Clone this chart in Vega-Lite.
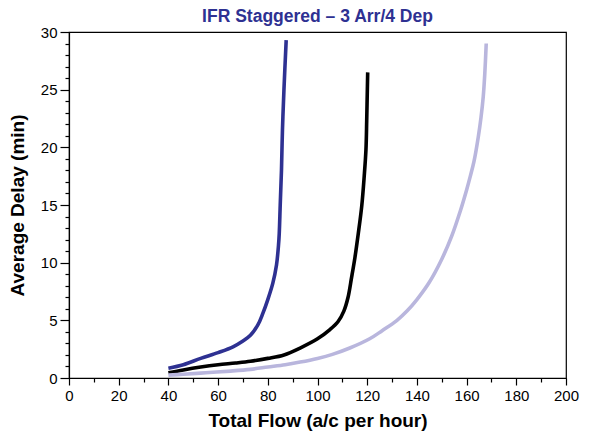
{
  "$schema": "https://vega.github.io/schema/vega-lite/v6.json",
  "width": 497,
  "height": 346,
  "autosize": "none",
  "padding": {"left": 69, "top": 32, "right": 28, "bottom": 62},
  "background": "white",
  "title": {
    "text": "IFR Staggered – 3 Arr/4 Dep",
    "color": "#2e3192",
    "font": "Liberation Sans",
    "fontSize": 17.5,
    "fontWeight": "bold",
    "anchor": "middle",
    "offset": 0
  },
  "config": {
    "view": {"stroke": "#000", "strokeWidth": 1.2},
    "axis": {
      "grid": false,
      "domainColor": "#000",
      "domainWidth": 1.2,
      "tickColor": "#000",
      "tickWidth": 1.2,
      "labelFont": "Liberation Sans",
      "labelFontSize": 15,
      "labelColor": "#000",
      "titleFont": "Liberation Sans",
      "titleFontSize": 19,
      "titleFontWeight": "bold",
      "titleColor": "#000",
      "labelOverlap": false,
      "labelFlush": false
    }
  },
  "data": {
    "values": [
      {"series": "A", "i": 1, "flow": 40, "delay": 0.85},
      {"series": "A", "i": 2, "flow": 46, "delay": 1.15},
      {"series": "A", "i": 3, "flow": 53, "delay": 1.7},
      {"series": "A", "i": 4, "flow": 60, "delay": 2.2},
      {"series": "A", "i": 5, "flow": 66, "delay": 2.7},
      {"series": "A", "i": 6, "flow": 70, "delay": 3.2},
      {"series": "A", "i": 7, "flow": 73, "delay": 3.7},
      {"series": "A", "i": 8, "flow": 76, "delay": 4.6},
      {"series": "A", "i": 9, "flow": 78, "delay": 5.6},
      {"series": "A", "i": 10, "flow": 80, "delay": 6.8},
      {"series": "A", "i": 11, "flow": 82, "delay": 8.2},
      {"series": "A", "i": 12, "flow": 83.5, "delay": 9.8},
      {"series": "A", "i": 13, "flow": 84.3, "delay": 11.5},
      {"series": "A", "i": 14, "flow": 84.6, "delay": 12.5},
      {"series": "A", "i": 15, "flow": 85, "delay": 15},
      {"series": "A", "i": 16, "flow": 85.5, "delay": 18},
      {"series": "A", "i": 17, "flow": 85.9, "delay": 21.5},
      {"series": "A", "i": 18, "flow": 86.5, "delay": 25},
      {"series": "A", "i": 19, "flow": 87.4, "delay": 29.3},

      {"series": "B", "i": 1, "flow": 40, "delay": 0.45},
      {"series": "B", "i": 2, "flow": 46, "delay": 0.7},
      {"series": "B", "i": 3, "flow": 53, "delay": 0.95},
      {"series": "B", "i": 4, "flow": 60, "delay": 1.15},
      {"series": "B", "i": 5, "flow": 67, "delay": 1.3},
      {"series": "B", "i": 6, "flow": 73, "delay": 1.45},
      {"series": "B", "i": 7, "flow": 80, "delay": 1.7},
      {"series": "B", "i": 8, "flow": 86.5, "delay": 2.0},
      {"series": "B", "i": 9, "flow": 93, "delay": 2.6},
      {"series": "B", "i": 10, "flow": 100, "delay": 3.4},
      {"series": "B", "i": 11, "flow": 105, "delay": 4.2},
      {"series": "B", "i": 12, "flow": 108.3, "delay": 4.9},
      {"series": "B", "i": 13, "flow": 110.6, "delay": 5.8},
      {"series": "B", "i": 14, "flow": 112.3, "delay": 7.0},
      {"series": "B", "i": 15, "flow": 113.7, "delay": 8.7},
      {"series": "B", "i": 16, "flow": 115.1, "delay": 10.5},
      {"series": "B", "i": 17, "flow": 116.4, "delay": 12.5},
      {"series": "B", "i": 18, "flow": 117.8, "delay": 14.9},
      {"series": "B", "i": 19, "flow": 118.8, "delay": 17.5},
      {"series": "B", "i": 20, "flow": 119.5, "delay": 19.8},
      {"series": "B", "i": 21, "flow": 119.8, "delay": 22.3},
      {"series": "B", "i": 22, "flow": 120.0, "delay": 24.4},
      {"series": "B", "i": 23, "flow": 120.2, "delay": 26.5},

      {"series": "C", "i": 1, "flow": 40, "delay": 0.25},
      {"series": "C", "i": 2, "flow": 46, "delay": 0.32},
      {"series": "C", "i": 3, "flow": 55, "delay": 0.45},
      {"series": "C", "i": 4, "flow": 65, "delay": 0.6},
      {"series": "C", "i": 5, "flow": 73, "delay": 0.75},
      {"series": "C", "i": 6, "flow": 80, "delay": 0.95},
      {"series": "C", "i": 7, "flow": 87, "delay": 1.15},
      {"series": "C", "i": 8, "flow": 93, "delay": 1.38},
      {"series": "C", "i": 9, "flow": 100, "delay": 1.7},
      {"series": "C", "i": 10, "flow": 106, "delay": 2.05},
      {"series": "C", "i": 11, "flow": 113, "delay": 2.6},
      {"series": "C", "i": 12, "flow": 121, "delay": 3.4},
      {"series": "C", "i": 13, "flow": 126, "delay": 4.1},
      {"series": "C", "i": 14, "flow": 132, "delay": 5.0},
      {"series": "C", "i": 15, "flow": 136, "delay": 5.8},
      {"series": "C", "i": 16, "flow": 140, "delay": 6.8},
      {"series": "C", "i": 17, "flow": 145, "delay": 8.3},
      {"series": "C", "i": 18, "flow": 150, "delay": 10.3},
      {"series": "C", "i": 19, "flow": 154, "delay": 12.3},
      {"series": "C", "i": 20, "flow": 157.5, "delay": 14.5},
      {"series": "C", "i": 21, "flow": 160, "delay": 16.3},
      {"series": "C", "i": 22, "flow": 161.5, "delay": 17.5},
      {"series": "C", "i": 23, "flow": 163, "delay": 18.8},
      {"series": "C", "i": 24, "flow": 164.7, "delay": 20.9},
      {"series": "C", "i": 25, "flow": 165.8, "delay": 22.6},
      {"series": "C", "i": 26, "flow": 166.7, "delay": 24.4},
      {"series": "C", "i": 27, "flow": 167.3, "delay": 26.3},
      {"series": "C", "i": 28, "flow": 167.9, "delay": 29}
    ]
  },
  "mark": {"type": "line", "interpolate": "catmull-rom", "strokeWidth": 3.6, "strokeCap": "butt", "clip": true},
  "encoding": {
    "x": {
      "field": "flow",
      "type": "quantitative",
      "scale": {"domain": [0, 200], "nice": false},
      "axis": {
        "title": "Total Flow (a/c per hour)",
        "values": [0, 10, 20, 30, 40, 50, 60, 70, 80, 90, 100, 110, 120, 130, 140, 150, 160, 170, 180, 190, 200],
        "labelExpr": "datum.value % 20 === 0 ? datum.label : ''",
        "tickSize": {"condition": {"test": "datum.value % 20 === 0", "value": 7}, "value": 4},
        "labelPadding": 3,
        "titlePadding": 8
      }
    },
    "y": {
      "field": "delay",
      "type": "quantitative",
      "scale": {"domain": [0, 30], "nice": false},
      "axis": {
        "title": "Average Delay (min)",
        "values": [0, 1, 2, 3, 4, 5, 6, 7, 8, 9, 10, 11, 12, 13, 14, 15, 16, 17, 18, 19, 20, 21, 22, 23, 24, 25, 26, 27, 28, 29, 30],
        "labelExpr": "datum.value % 5 === 0 ? datum.label : ''",
        "tickSize": {"condition": {"test": "datum.value % 5 === 0", "value": 9}, "value": 4},
        "labelPadding": 3,
        "titlePadding": 13
      }
    },
    "order": {"field": "i", "type": "quantitative"},
    "color": {
      "field": "series",
      "type": "nominal",
      "scale": {"domain": ["A", "B", "C"], "range": ["#2e3192", "#000000", "#b9b6dd"]},
      "legend": null
    }
  }
}
